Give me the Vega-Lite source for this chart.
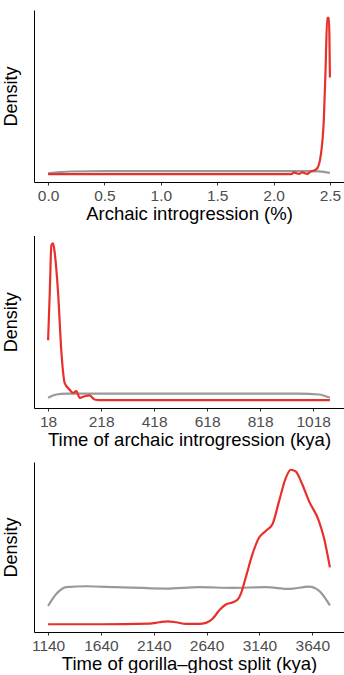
{
  "$schema": "https://vega.github.io/schema/vega-lite/v6.json",
  "padding": {"top": 10, "left": 2, "right": 0, "bottom": 0},
  "spacing": 12.5,
  "config": {
    "view": {"stroke": null},
    "font": "Liberation Sans",
    "axis": {"grid": false, "domainColor": "#000000", "domainWidth": 1, "tickColor": "#333333", "titleFontWeight": "normal", "titleColor": "#000000", "labelColor": "#4d4d4d"},
    "line": {"strokeWidth": 2.2, "strokeCap": "butt", "interpolate": "monotone"}
  },
  "datasets": {
    "p1": [
      {"x": 0, "d": 0.006, "s": "prior"}, {"x": 0.1, "d": 0.013, "s": "prior"}, {"x": 0.2, "d": 0.017, "s": "prior"}, {"x": 0.5, "d": 0.019, "s": "prior"}, {"x": 1.0, "d": 0.019, "s": "prior"}, {"x": 1.5, "d": 0.019, "s": "prior"}, {"x": 2.0, "d": 0.019, "s": "prior"}, {"x": 2.3, "d": 0.019, "s": "prior"}, {"x": 2.4, "d": 0.018, "s": "prior"}, {"x": 2.45, "d": 0.015, "s": "prior"}, {"x": 2.5, "d": 0.008, "s": "prior"},
      {"x": 0, "d": 0, "s": "post"}, {"x": 0.5, "d": 0, "s": "post"}, {"x": 1.0, "d": 0, "s": "post"}, {"x": 1.5, "d": 0, "s": "post"}, {"x": 2.0, "d": 0, "s": "post"}, {"x": 2.16, "d": 0, "s": "post"}, {"x": 2.181, "d": 0.011, "s": "post"}, {"x": 2.226, "d": 0.002, "s": "post"}, {"x": 2.255, "d": 0.011, "s": "post"}, {"x": 2.299, "d": 0.002, "s": "post"}, {"x": 2.329, "d": 0.017, "s": "post"}, {"x": 2.358, "d": 0.023, "s": "post"}, {"x": 2.388, "d": 0.038, "s": "post"}, {"x": 2.417, "d": 0.112, "s": "post"}, {"x": 2.447, "d": 0.366, "s": "post"}, {"x": 2.462, "d": 0.683, "s": "post"}, {"x": 2.476, "d": 1.0, "s": "post"}, {"x": 2.491, "d": 1.0, "s": "post"}, {"x": 2.5, "d": 0.619, "s": "post"}
    ],
    "p2": [
      {"x": 18, "d": 0.015, "s": "prior"}, {"x": 49, "d": 0.036, "s": "prior"}, {"x": 87, "d": 0.042, "s": "prior"}, {"x": 463, "d": 0.042, "s": "prior"}, {"x": 964, "d": 0.042, "s": "prior"}, {"x": 1039, "d": 0.036, "s": "prior"}, {"x": 1081, "d": 0.015, "s": "prior"},
      {"x": 18, "d": 0.382, "s": "post"}, {"x": 24.3, "d": 0.686, "s": "post"}, {"x": 30.5, "d": 0.99, "s": "post"}, {"x": 36.8, "d": 1.0, "s": "post"}, {"x": 43.1, "d": 0.937, "s": "post"}, {"x": 55.6, "d": 0.686, "s": "post"}, {"x": 68.1, "d": 0.308, "s": "post"}, {"x": 80.7, "d": 0.109, "s": "post"}, {"x": 99.5, "d": 0.067, "s": "post"}, {"x": 112, "d": 0.046, "s": "post"}, {"x": 124.5, "d": 0.057, "s": "post"}, {"x": 137, "d": 0.015, "s": "post"}, {"x": 155.8, "d": 0.025, "s": "post"}, {"x": 174.6, "d": 0.031, "s": "post"}, {"x": 193.4, "d": 0.004, "s": "post"}, {"x": 212, "d": 0, "s": "post"}, {"x": 500, "d": 0, "s": "post"}, {"x": 800, "d": 0, "s": "post"}, {"x": 1081, "d": 0, "s": "post"}
    ],
    "p3": [
      {"x": 1140, "d": 0.118, "s": "prior"}, {"x": 1219, "d": 0.197, "s": "prior"}, {"x": 1313, "d": 0.24, "s": "prior"}, {"x": 1502, "d": 0.246, "s": "prior"}, {"x": 1785, "d": 0.24, "s": "prior"}, {"x": 2256, "d": 0.231, "s": "prior"}, {"x": 2571, "d": 0.24, "s": "prior"}, {"x": 2885, "d": 0.236, "s": "prior"}, {"x": 3200, "d": 0.24, "s": "prior"}, {"x": 3420, "d": 0.229, "s": "prior"}, {"x": 3609, "d": 0.244, "s": "prior"}, {"x": 3703, "d": 0.218, "s": "prior"}, {"x": 3807, "d": 0.122, "s": "prior"},
      {"x": 1140, "d": 0, "s": "post"}, {"x": 1627, "d": 0, "s": "post"}, {"x": 2099, "d": 0.004, "s": "post"}, {"x": 2193, "d": 0.013, "s": "post"}, {"x": 2272, "d": 0.019, "s": "post"}, {"x": 2351, "d": 0.013, "s": "post"}, {"x": 2445, "d": 0.002, "s": "post"}, {"x": 2571, "d": 0.002, "s": "post"}, {"x": 2634, "d": 0.009, "s": "post"}, {"x": 2697, "d": 0.036, "s": "post"}, {"x": 2760, "d": 0.09, "s": "post"}, {"x": 2822, "d": 0.128, "s": "post"}, {"x": 2885, "d": 0.141, "s": "post"}, {"x": 2932, "d": 0.158, "s": "post"}, {"x": 2964, "d": 0.197, "s": "post"}, {"x": 3011, "d": 0.304, "s": "post"}, {"x": 3074, "d": 0.454, "s": "post"}, {"x": 3137, "d": 0.561, "s": "post"}, {"x": 3200, "d": 0.604, "s": "post"}, {"x": 3263, "d": 0.647, "s": "post"}, {"x": 3326, "d": 0.797, "s": "post"}, {"x": 3389, "d": 0.946, "s": "post"}, {"x": 3436, "d": 1.0, "s": "post"}, {"x": 3483, "d": 0.989, "s": "post"}, {"x": 3546, "d": 0.904, "s": "post"}, {"x": 3609, "d": 0.797, "s": "post"}, {"x": 3703, "d": 0.668, "s": "post"}, {"x": 3750, "d": 0.561, "s": "post"}, {"x": 3807, "d": 0.368, "s": "post"}
    ]
  },
  "vconcat": [
    {
      "width": 310, "height": 172,
      "data": {"name": "p1"},
      "encoding": {
        "x": {"field": "x", "type": "quantitative", "title": "Archaic introgression (%)",
          "scale": {"domain": [-0.125, 2.625], "nice": false, "zero": false},
          "axis": {"values": [0, 0.5, 1, 1.5, 2, 2.5], "format": ".1f", "tickSize": 3, "labelPadding": 3.5, "labelFontSize": 15.5, "titleFontSize": 18.5, "titlePadding": 0.5, "labelFlush": false}},
        "y": {"field": "d", "type": "quantitative", "title": "Density",
          "scale": {"domain": [-0.05, 1.05], "nice": false, "zero": false},
          "axis": {"ticks": false, "labels": false, "titleFontSize": 18, "titlePadding": 14}}
      },
      "layer": [
        {"transform": [{"filter": "datum.s === 'prior'"}], "mark": {"type": "line", "color": "#999999"}},
        {"transform": [{"filter": "datum.s === 'post'"}], "mark": {"type": "line", "color": "#e8302a"}}
      ]
    },
    {
      "width": 310, "height": 172.5,
      "data": {"name": "p2"},
      "encoding": {
        "x": {"field": "x", "type": "quantitative", "title": "Time of archaic introgression (kya)",
          "scale": {"domain": [-35.2, 1134.2], "nice": false, "zero": false},
          "axis": {"values": [18, 218, 418, 618, 818, 1018], "format": "d", "tickSize": 3, "labelPadding": 3.5, "labelFontSize": 15.5, "titleFontSize": 18.5, "titlePadding": 0.5, "labelFlush": false}},
        "y": {"field": "d", "type": "quantitative", "title": "Density",
          "scale": {"domain": [-0.05, 1.05], "nice": false, "zero": false},
          "axis": {"ticks": false, "labels": false, "titleFontSize": 18, "titlePadding": 14}}
      },
      "layer": [
        {"transform": [{"filter": "datum.s === 'prior'"}], "mark": {"type": "line", "color": "#999999"}},
        {"transform": [{"filter": "datum.s === 'post'"}], "mark": {"type": "line", "color": "#e8302a"}}
      ]
    },
    {
      "width": 310, "height": 170,
      "data": {"name": "p3"},
      "encoding": {
        "x": {"field": "x", "type": "quantitative", "title": "Time of gorilla–ghost split (kya)",
          "scale": {"domain": [1006.7, 3940.3], "nice": false, "zero": false},
          "axis": {"values": [1140, 1640, 2140, 2640, 3140, 3640], "format": "d", "tickSize": 3, "labelPadding": 3.5, "labelFontSize": 15.5, "titleFontSize": 18.5, "titlePadding": 0.5, "labelFlush": false}},
        "y": {"field": "d", "type": "quantitative", "title": "Density",
          "scale": {"domain": [-0.05, 1.05], "nice": false, "zero": false},
          "axis": {"ticks": false, "labels": false, "titleFontSize": 18, "titlePadding": 14}}
      },
      "layer": [
        {"transform": [{"filter": "datum.s === 'prior'"}], "mark": {"type": "line", "color": "#999999"}},
        {"transform": [{"filter": "datum.s === 'post'"}], "mark": {"type": "line", "color": "#e8302a"}}
      ]
    }
  ]
}
